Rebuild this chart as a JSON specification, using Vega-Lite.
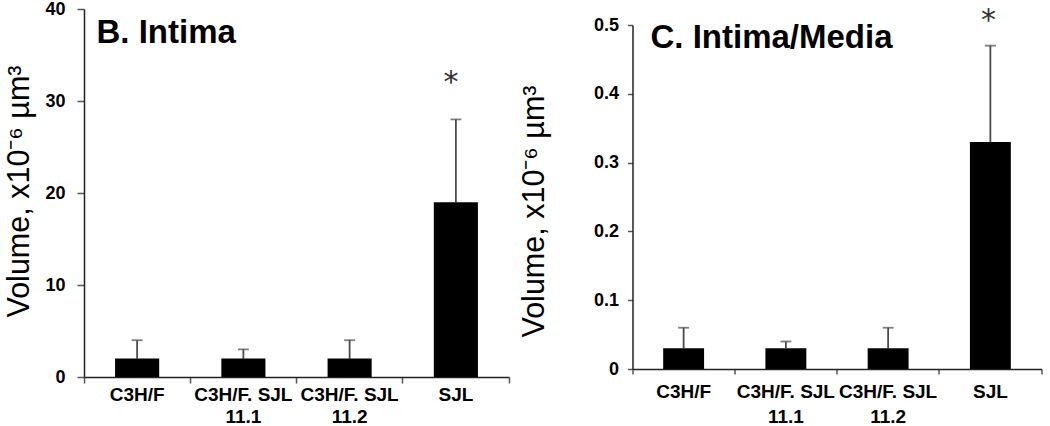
{
  "$schema": "https://vega.github.io/schema/vega-lite/v6.json",
  "padding": {"left": 4, "top": 0, "right": 0, "bottom": 0},
  "background": "white",
  "bounds": "flush",
  "spacing": 123.5,
  "config": {
    "view": {"stroke": null},
    "font": "Liberation Sans",
    "axis": {
      "domainColor": "#222222",
      "domainWidth": 1.5,
      "tickColor": "#555555",
      "tickWidth": 1.5,
      "labelFont": "Liberation Sans",
      "labelFontWeight": "bold",
      "labelColor": "#000000",
      "titleFont": "Liberation Sans",
      "titleFontWeight": "normal",
      "titleColor": "#000000",
      "grid": false
    }
  },
  "hconcat": [
    {
      "width": 425,
      "height": 368,
      "title": {"text": "B. Intima", "anchor": "start", "frame": "group", "orient": "top", "offset": -34, "baseline": "alphabetic", "dx": 12.5, "dy": 42, "fontSize": 33, "fontWeight": "bold", "font": "Liberation Sans", "color": "#000000"},
      "data": {"values": [
        {"strain": "C3H/F", "v": 2, "up": 4, "star": ""},
        {"strain": "C3H/F. SJL 11.1", "v": 2, "up": 3, "star": ""},
        {"strain": "C3H/F. SJL 11.2", "v": 2, "up": 4, "star": ""},
        {"strain": "SJL", "v": 19, "up": 28, "star": "*"}
      ]},
      "encoding": {
        "x": {"field": "strain", "type": "nominal", "sort": null,
          "scale": {"paddingInner": 0, "paddingOuter": 0},
          "axis": {"title": null, "labelAngle": 0, "bandPosition": 1, "tickExtra": true, "tickSize": 6, "labelPadding": 2, "labelFontSize": 19, "labelLineHeight": 22,
            "labelExpr": "split(replace(datum.label, ' 11.', '|11.'), '|')"}}
      },
      "layer": [
        {"mark": {"type": "rule", "color": "#4a4a4a", "strokeWidth": 1.8},
          "encoding": {"y": {"field": "v", "type": "quantitative", "scale": {"domain": [0, 40], "nice": false},
            "axis": {"title": "Volume, x10⁻⁶ µm³", "titleFontSize": 30.5, "titlePadding": 10.5, "titleY": 182, "values": [0, 10, 20, 30, 40], "labelFontSize": 18, "tickSize": 7, "labelPadding": 12}},
            "y2": {"field": "up"}}},
        {"mark": {"type": "tick", "color": "#4a4a4a", "thickness": 1.8, "size": 11},
          "encoding": {"y": {"field": "up", "type": "quantitative"}}},
        {"mark": {"type": "bar", "color": "#000000", "width": {"band": 0.415}},
          "encoding": {"y": {"field": "v", "type": "quantitative"}}},
        {"mark": {"type": "text", "font": "DejaVu Sans", "fontSize": 30, "color": "#333333", "baseline": "middle", "dy": -36, "dx": -5},
          "encoding": {"y": {"field": "up", "type": "quantitative"}, "text": {"field": "star"}}}
      ]
    },
    {
      "spacing": 0,
      "bounds": "flush",
      "vconcat": [
        {
          "width": 10,
          "height": 16,
          "data": {"values": []},
          "mark": {"type": "rule", "opacity": 0},
          "encoding": {}
        },
        {
          "width": 409,
          "height": 344,
          "title": {"text": "C. Intima/Media", "anchor": "start", "frame": "group", "orient": "top", "offset": -33, "baseline": "alphabetic", "dx": 18, "dy": 42, "fontSize": 33, "fontWeight": "bold", "font": "Liberation Sans", "color": "#000000"},
          "data": {"values": [
            {"strain": "C3H/F", "v": 0.03, "up": 0.06, "star": ""},
            {"strain": "C3H/F. SJL 11.1", "v": 0.03, "up": 0.04, "star": ""},
            {"strain": "C3H/F. SJL 11.2", "v": 0.03, "up": 0.06, "star": ""},
            {"strain": "SJL", "v": 0.33, "up": 0.47, "star": "*"}
          ]},
          "encoding": {
            "x": {"field": "strain", "type": "nominal", "sort": null,
              "scale": {"paddingInner": 0, "paddingOuter": 0},
              "axis": {"title": null, "labelAngle": 0, "bandPosition": 1, "tickExtra": true, "tickSize": 5, "labelPadding": 8, "labelFontSize": 19, "labelLineHeight": 25,
                "labelExpr": "split(replace(datum.label, ' 11.', '|11.'), '|')"}}
          },
          "layer": [
            {"mark": {"type": "rule", "color": "#4a4a4a", "strokeWidth": 1.8},
              "encoding": {"y": {"field": "v", "type": "quantitative", "scale": {"domain": [0, 0.5], "nice": false},
                "axis": {"title": "Volume, x10⁻⁶ µm³", "titleFontSize": 30.5, "titlePadding": 44, "titleY": 186, "values": [0, 0.1, 0.2, 0.3, 0.4, 0.5], "format": "~g", "labelFontSize": 18, "tickSize": 5, "labelPadding": 9}},
                "y2": {"field": "up"}}},
            {"mark": {"type": "tick", "color": "#4a4a4a", "thickness": 1.8, "size": 11},
              "encoding": {"y": {"field": "up", "type": "quantitative"}}},
            {"mark": {"type": "bar", "color": "#000000", "width": {"band": 0.4}},
              "encoding": {"y": {"field": "v", "type": "quantitative"}}},
            {"mark": {"type": "text", "font": "DejaVu Sans", "fontSize": 30, "color": "#333333", "baseline": "middle", "dy": -25, "dx": -2},
              "encoding": {"y": {"field": "up", "type": "quantitative"}, "text": {"field": "star"}}}
          ]
        }
      ]
    }
  ]
}
